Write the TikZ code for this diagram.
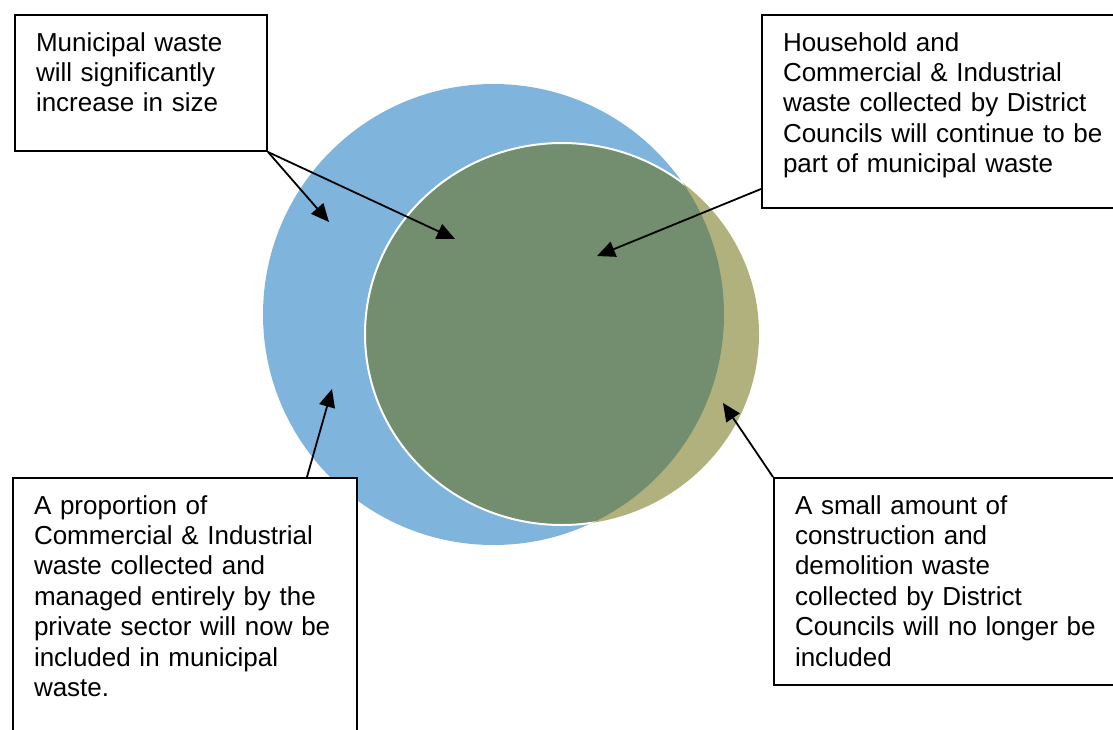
\documentclass[tikz,border=0pt]{standalone}
\usepackage{fontspec}
\setmainfont{Liberation Sans}
\usepackage{tikz}
\usetikzlibrary{arrows.meta}

\definecolor{newblue}{HTML}{7FB4DC}
\definecolor{oldolive}{HTML}{B1B17D}
\definecolor{overlap}{HTML}{728E6E}

\begin{document}
\begin{tikzpicture}[x=0.5pt, y=-0.5pt,
		notebox/.style={draw, fill=white, line width=1pt, anchor=north west,
			align=left, inner xsep=10.5pt, inner ysep=0pt, text height=18pt,
			font=\fontsize{13}{15.2}\selectfont},
		pointer/.style={-{Triangle[length=9pt, width=8pt]}, line width=0.9pt}
	]
	
	\useasboundingbox (0,0) rectangle (1113,729);
	
	% municipal waste, old and new
	\fill[newblue] (493.5,314.5) circle [radius=230.5];
	\fill[oldolive] (562,334) ellipse [x radius=197, y radius=191];
	\begin{scope}
		\clip (493.5,314.5) circle [radius=230.5];
		\fill[overlap] (562,334) ellipse [x radius=197, y radius=191];
		\draw[white, line width=1pt] (562,334) ellipse [x radius=197, y radius=191];
	\end{scope}
	
	\node[notebox, text width=105pt, text depth=50pt] (size) at (14,14)
		{Municipal waste\\will significantly\\increase in size};
	\node[notebox, text width=170pt, text depth=78.5pt] (hhold) at (761,14)
		{Household and\\Commercial \& Industrial\\waste collected by District\\Councils will continue to be\\part of municipal waste};
	\node[notebox, text width=151pt, text depth=150pt] (private) at (12,477)
		{A proportion of\\Commercial \& Industrial\\waste collected and\\managed entirely by the\\private sector will now be\\included in municipal\\waste.};
	\node[notebox, text width=170pt, text depth=85.5pt] (cd) at (773,477)
		{A small amount of\\construction and\\demolition waste\\collected by District\\Councils will no longer be\\included};
	
	\coordinate (outer) at (329,222);
	\coordinate (inner) at (455,239);
	\coordinate (kept) at (597,256);
	\coordinate (added) at (332,389);
	\coordinate (dropped) at (723,403);
	
	\draw[pointer] (size.south east) -- (outer);
	\draw[pointer] (size.south east) -- (inner);
	\draw[pointer] (hhold.south west) ++(0,-20) -- (kept);
	\draw[pointer] (private.north east) ++(-51,0) -- (added);
	\draw[pointer] (cd.north west) -- (dropped);
\end{tikzpicture}
\end{document}
